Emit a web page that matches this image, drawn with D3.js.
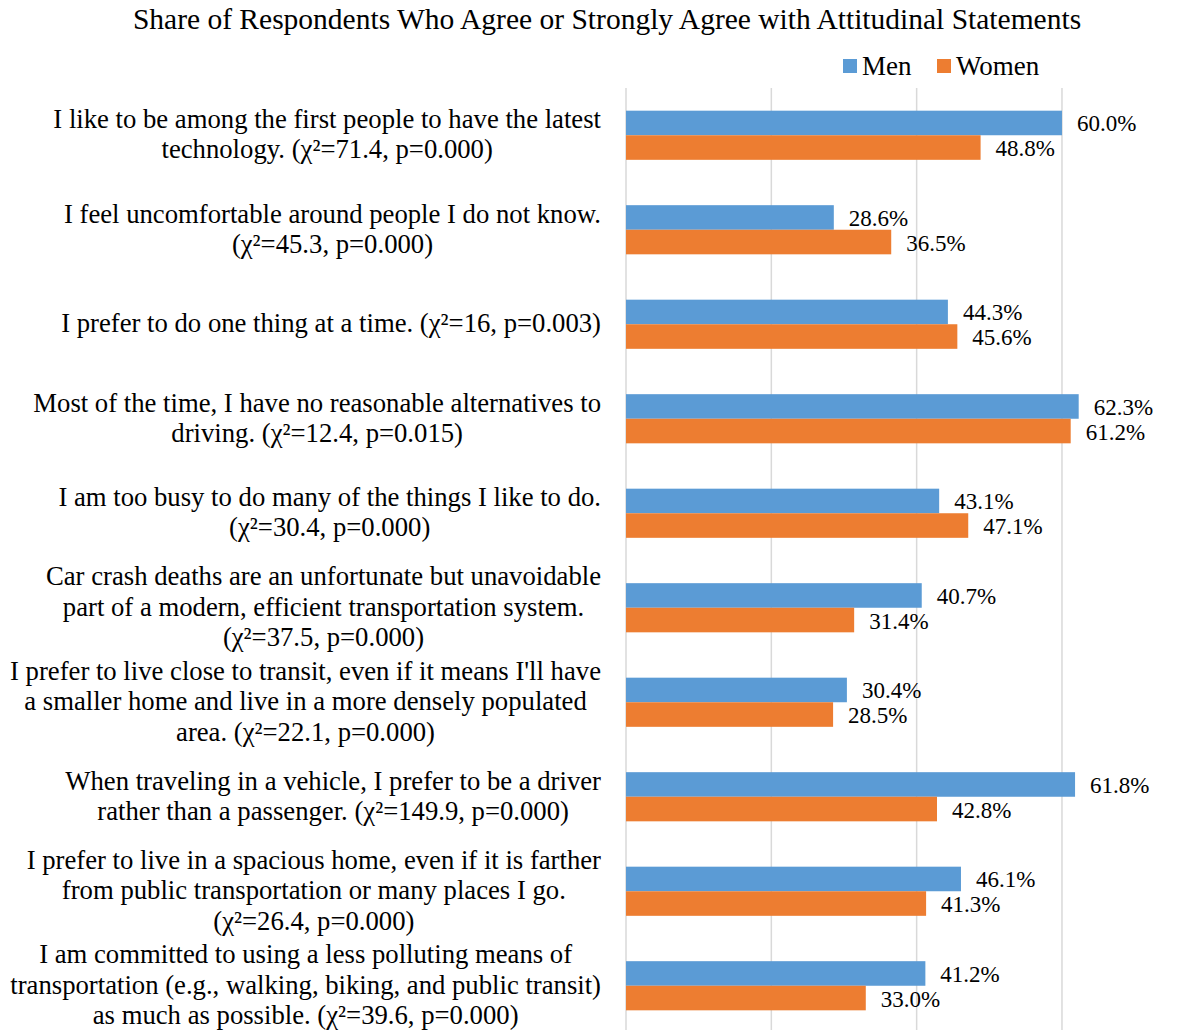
<!DOCTYPE html>
<html><head><meta charset="utf-8">
<script src="https://cdn.jsdelivr.net/npm/d3@7"></script>
<style>body{margin:0;background:#fff}svg{display:block}text{font-family:"Liberation Serif","Times New Roman",serif;fill:#000}</style>
</head><body><svg id="c" width="1198" height="1030"></svg>
<script>
const title = "Share of Respondents Who Agree or Strongly Agree with Attitudinal Statements";
const categories = [
  ["I like to be among the first people to have the latest", "technology. (χ²=71.4, p=0.000)"],
  ["I feel uncomfortable around people I do not know.", "(χ²=45.3, p=0.000)"],
  ["I prefer to do one thing at a time. (χ²=16, p=0.003)"],
  ["Most of the time, I have no reasonable alternatives to", "driving. (χ²=12.4, p=0.015)"],
  ["I am too busy to do many of the things I like to do.", "(χ²=30.4, p=0.000)"],
  ["Car crash deaths are an unfortunate but unavoidable", "part of a modern, efficient transportation system.", "(χ²=37.5, p=0.000)"],
  ["I prefer to live close to transit, even if it means I'll have", "a smaller home and live in a more densely populated", "area. (χ²=22.1, p=0.000)"],
  ["When traveling in a vehicle, I prefer to be a driver", "rather than a passenger. (χ²=149.9, p=0.000)"],
  ["I prefer to live in a spacious home, even if it is farther", "from public transportation or many places I go.", "(χ²=26.4, p=0.000)"],
  ["I am committed to using a less polluting means of", "transportation (e.g., walking, biking, and public transit)", "as much as possible. (χ²=39.6, p=0.000)"]
];
const seriesNames = ["Men", "Women"];
const men = [60.0, 28.6, 44.3, 62.3, 43.1, 40.7, 30.4, 61.8, 46.1, 41.2];
const women = [48.8, 36.5, 45.6, 61.2, 47.1, 31.4, 28.5, 42.8, 41.3, 33.0];
const xTicks = [0, 20, 40, 60, 80];
const colors = ["#5B9BD5", "#ED7D31"];

const svg = d3.select("#c");
const ids = categories.map((c, i) => i);
const x = d3.scaleLinear().domain([0, 80]).range([626, 1207.3]);
const y = d3.scaleBand().domain(ids).range([88, 1033]).paddingInner(0.48).paddingOuter(0.24);
const ySub = d3.scaleBand().domain([0, 1]).range([0, y.bandwidth()]);

svg.append("text").attr("x", 607).attr("y", 29).attr("text-anchor", "middle")
  .style("font-size", "29.5px").text(title);

// gridlines
svg.append("g").selectAll("line").data(xTicks).join("line")
  .attr("x1", d => x(d)).attr("x2", d => x(d)).attr("y1", 88).attr("y2", 1030)
  .attr("stroke", "#D9D9D9").attr("stroke-width", 1.5);

const series = [men, women];
series.forEach((vals, s) => {
  const g = svg.append("g");
  g.selectAll("rect").data(vals).join("rect")
    .attr("x", x(0)).attr("y", (d, i) => y(i) + ySub(s))
    .attr("width", d => x(d) - x(0)).attr("height", ySub.bandwidth())
    .attr("fill", colors[s]);
  g.selectAll("text").data(vals).join("text")
    .attr("x", d => x(d) + 15).attr("y", (d, i) => y(i) + ySub(s) + ySub.bandwidth() / 2 + 1)
    .attr("dominant-baseline", "central").style("font-size", "23px")
    .text(d => d.toFixed(1) + "%");
});

// category labels
const lh = 30.3;
categories.forEach((lines, i) => {
  const g = svg.append("g");
  const t = g.selectAll("text").data(lines).join("text")
    .attr("y", (d, k) => y(i) + y.bandwidth() / 2 + (k - (lines.length - 1) / 2) * lh - 1)
    .attr("dominant-baseline", "central").attr("text-anchor", "middle")
    .style("font-size", "26.7px").text(d => d);
  let maxW = 0;
  t.each(function () { maxW = Math.max(maxW, this.getComputedTextLength()); });
  t.attr("x", 601 - maxW / 2);
});

// legend
const leg = svg.append("g");
const lx = [843, 937];
seriesNames.forEach((n, s) => {
  leg.append("rect").attr("x", lx[s]).attr("y", 59).attr("width", 14).attr("height", 14).attr("fill", colors[s]);
  leg.append("text").attr("x", lx[s] + 19).attr("y", 66).attr("dominant-baseline", "central")
    .style("font-size", "27px").text(n);
});
</script></body></html>
